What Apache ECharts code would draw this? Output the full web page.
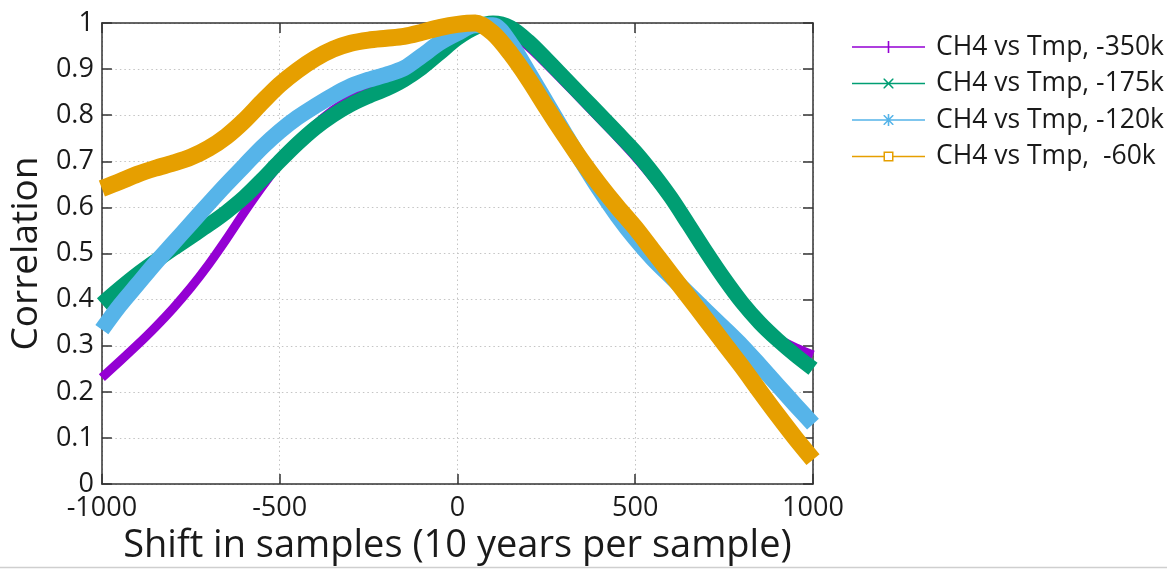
<!DOCTYPE html>
<html>
<head>
<meta charset="utf-8">
<script src="https://cdn.jsdelivr.net/npm/echarts@6/dist/echarts.min.js"></script>
<style>
html,body{margin:0;padding:0;background:#fff;}
#chart{width:1167px;height:570px;}
</style>
</head>
<body>
<div id="chart"></div>
<script>
// Shift in samples
var shifts = [-1000,-950,-900,-850,-800,-750,-700,-650,-600,-550,-500,-450,-400,-350,-300,-250,-200,-150,-100,-50,0,50,100,150,200,250,300,350,400,450,500,550,600,650,700,750,800,850,900,950,1000];

var seriesNames = ['CH4 vs Tmp, -350k', 'CH4 vs Tmp, -175k', 'CH4 vs Tmp, -120k', 'CH4 vs Tmp,  -60k'];

var corr350k = [0.231,0.266,0.302,0.340,0.381,0.426,0.476,0.531,0.589,0.644,0.695,0.740,0.779,0.811,0.836,0.854,0.866,0.881,0.905,0.939,0.971,0.994,1.000,0.979,0.948,0.911,0.872,0.832,0.792,0.752,0.710,0.664,0.614,0.558,0.499,0.441,0.387,0.345,0.316,0.296,0.280];

var corr175k = [0.391,0.424,0.455,0.483,0.510,0.536,0.562,0.590,0.622,0.660,0.700,0.738,0.772,0.800,0.823,0.841,0.857,0.877,0.903,0.935,0.967,0.990,1.000,0.990,0.960,0.922,0.882,0.842,0.802,0.762,0.721,0.674,0.622,0.563,0.503,0.446,0.394,0.350,0.313,0.280,0.250];

var corr120k = [0.335,0.387,0.433,0.479,0.522,0.565,0.608,0.650,0.690,0.730,0.765,0.795,0.820,0.843,0.863,0.877,0.888,0.902,0.929,0.957,0.978,0.995,0.995,0.955,0.893,0.828,0.763,0.699,0.638,0.582,0.532,0.488,0.450,0.413,0.375,0.338,0.300,0.258,0.215,0.172,0.130];

var corr60k = [0.641,0.656,0.672,0.685,0.696,0.709,0.728,0.754,0.788,0.828,0.866,0.897,0.923,0.943,0.956,0.963,0.967,0.971,0.980,0.990,0.997,1.000,0.978,0.933,0.878,0.817,0.758,0.701,0.649,0.601,0.556,0.506,0.456,0.406,0.356,0.305,0.255,0.202,0.150,0.100,0.053];

var xTicks = { min: -1000, max: 1000, step: 500 };
var yTicks = { min: 0, max: 1, step: 0.1 };

var colors = ['#9400d3', '#009e73', '#56b4e9', '#e69f00'];
var widths = [9, 15, 16, 17];

// legend icons: thin line with gnuplot-style point marker (73 x 12 box)
var icons = [
  'path://M0,5.2L73,5.2L73,6.8L0,6.8Z M35.7,0L37.3,0L37.3,12L35.7,12Z',
  'path://M0,5.2L73,5.2L73,6.8L0,6.8Z M31.5,1L32.6,1L41.5,9.9L41.5,11L40.4,11L31.5,2.1Z M41.5,1L41.5,2.1L32.6,11L31.5,11L31.5,9.9L40.4,1Z',
  'path://M0,5.2L73,5.2L73,6.8L0,6.8Z M35.7,0L37.3,0L37.3,12L35.7,12Z M31.5,1L32.6,1L41.5,9.9L41.5,11L40.4,11L31.5,2.1Z M41.5,1L41.5,2.1L32.6,11L31.5,11L31.5,9.9L40.4,1Z',
  'path://M0,5.2L31.5,5.2L31.5,6.8L0,6.8Z M41.5,5.2L73,5.2L73,6.8L41.5,6.8Z M31.5,1L41.5,1L41.5,11L31.5,11Z M33,2.5L33,9.5L40,9.5L40,2.5Z'
];

function pairs(vals) {
  return shifts.map(function (s, i) { return [s, vals[i]]; });
}
var allVals = [corr350k, corr175k, corr120k, corr60k];

var font = '"Open Sans", "Noto Sans", sans-serif';
var axisColor = '#333';
var textColor = '#1a1a1a';

var chart = echarts.init(document.getElementById('chart'), null, { renderer: 'canvas' });

var series = allVals.map(function (vals, i) {
  return {
    name: seriesNames[i],
    type: 'line',
    data: pairs(vals),
    showSymbol: false,
    symbol: 'none',
    smooth: 0.3,
    clip: false,
    color: colors[i],
    lineStyle: { color: colors[i], width: widths[i], cap: 'butt', join: 'round' },
    emphasis: { disabled: true },
    z: 2 + i
  };
});

var tickCommon = { show: true, inside: true, length: 10, lineStyle: { color: axisColor, width: 1.5 } };
var lineCommon = { show: true, onZero: false, lineStyle: { color: axisColor, width: 1.5 } };
var gridDots = { show: true, lineStyle: { color: '#c4c4c4', width: 1, type: [1.5, 3] } };

chart.setOption({
  animation: false,
  backgroundColor: '#fff',
  textStyle: { fontFamily: font },
  grid: { left: 95, right: 354, top: 23, bottom: 82, containLabel: false },
  legend: {
    orient: 'vertical',
    left: 847,
    top: 27,
    itemWidth: 73,
    itemHeight: 12,
    itemGap: 6.5,
    symbolKeepAspect: true,
    itemStyle: { borderWidth: 0 },
    textStyle: { fontFamily: font, fontSize: 26.5, color: textColor, lineHeight: 30, padding: [0, 0, 0, 6] },
    data: seriesNames.map(function (n, i) { return { name: n, icon: icons[i] }; }),
    selectedMode: false
  },
  xAxis: [{
    type: 'value',
    min: xTicks.min, max: xTicks.max, interval: xTicks.step,
    position: 'bottom',
    name: 'Shift in samples (10 years per sample)',
    nameLocation: 'middle',
    nameGap: 40,
    nameTextStyle: { fontFamily: font, fontSize: 38, color: textColor },
    axisLine: lineCommon,
    axisTick: tickCommon,
    axisLabel: { fontFamily: font, fontSize: 27, color: textColor, margin: 11,
      formatter: function (v) { return String(v); } },
    splitLine: gridDots
  }, {
    type: 'value',
    min: xTicks.min, max: xTicks.max, interval: xTicks.step,
    position: 'top',
    axisLine: lineCommon,
    axisTick: tickCommon,
    axisLabel: { show: false },
    splitLine: { show: false }
  }],
  yAxis: [{
    type: 'value',
    min: yTicks.min, max: yTicks.max, interval: yTicks.step,
    position: 'left',
    name: 'Correlation',
    nameLocation: 'middle',
    nameGap: 50,
    nameTextStyle: { fontFamily: font, fontSize: 37, color: textColor },
    axisLine: lineCommon,
    axisTick: tickCommon,
    axisLabel: { fontFamily: font, fontSize: 27, color: textColor, margin: 8,
      formatter: function (v) { return String(Math.round(v * 10) / 10); } },
    splitLine: gridDots
  }, {
    type: 'value',
    min: yTicks.min, max: yTicks.max, interval: yTicks.step,
    position: 'right',
    axisLine: lineCommon,
    axisTick: tickCommon,
    axisLabel: { show: false },
    splitLine: { show: false }
  }],
  graphic: [{
    type: 'line',
    shape: { x1: 0, y1: 567.5, x2: 1167, y2: 567.5 },
    style: { stroke: '#cfcfcf', lineWidth: 1.5 },
    z: 100,
    silent: true
  }],
  series: series
});
</script>
</body>
</html>
